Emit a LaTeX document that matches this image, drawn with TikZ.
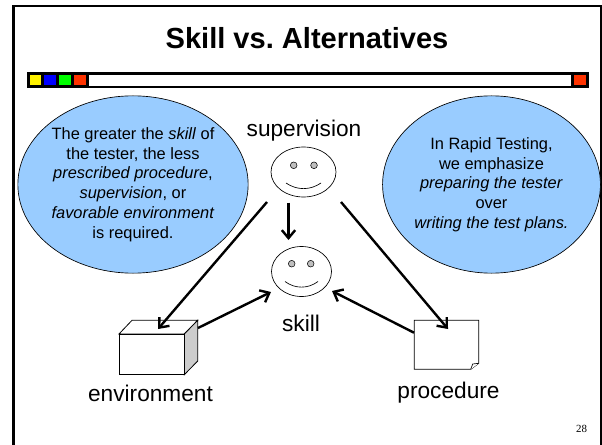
\documentclass[tikz,border=0pt]{standalone}
\usepackage{fontspec}
\setmainfont{Liberation Sans}
\newfontfamily\numfont{Liberation Serif}
\usetikzlibrary{arrows.meta,positioning,shapes.geometric}
\definecolor{bubble}{RGB}{153,204,255}
\definecolor{stripred}{RGB}{255,51,0}
\frenchspacing
\begin{document}
\begin{tikzpicture}[x=0.75pt,y=-0.75pt,
  bubbletxt/.style={ellipse, draw, fill=bubble, line width=0.5pt, inner sep=0pt,
                    align=center, minimum height=133pt, font=\fontsize{12.3}{14.8}\selectfont},
  lbl/.style={font=\fontsize{17}{20}\selectfont},
  face/.style={ellipse, draw, line width=0.5pt, minimum height=37.5pt, inner sep=0pt},
  eye/.style={circle, draw, fill=black!25, line width=0.4pt, minimum size=5pt, inner sep=0pt},
  swatch/.style={draw=black, line width=2.2pt, minimum width=11pt, minimum height=10pt, inner sep=0pt},
  arr/.style={-{Straight Barb[length=6pt,width=10pt]}, line width=1.8pt},
]
  \useasboundingbox (0,0) rectangle (602,445);
  % frame and title
  \draw[line width=2pt] (13.5,445) -- (13.5,6) -- (601,6) -- (601,445);
  \node[font=\fontsize{21.8}{26}\bfseries] (title) at (307,38) {Skill vs. Alternatives};
  % colour strip
  \draw[line width=2.2pt] (28,73.5) rectangle (587,87);
  \node[swatch, fill=yellow] (c1) at (35.5,80.25) {};
  \node[swatch, fill=blue] (c2) at (50.2,80.25) {};
  \node[swatch, fill=green] (c3) at (65,80.25) {};
  \node[swatch, fill=stripred] (c4) at (80,80.25) {};
  \node[swatch, fill=stripred] (c5) at (579.8,80.25) {};
  % bubbles
  \node[bubbletxt, minimum width=165pt] (left) at (133,184.5)
    {The greater the \textit{skill} of\\the tester, the less\\\textit{prescribed procedure},\\
     \textit{supervision}, or\\\textit{favorable environment}\\is required.};
  \node[bubbletxt, minimum width=157pt] (right) at (491.5,184.5)
    {In Rapid Testing,\\we emphasize\\\textit{preparing the tester}\\over\\\textit{writing the test plans.}};
  % faces
  \node[face, minimum width=48.75pt] (sup) at (303.5,172) {};
  \node[eye] (sup1) at (293.7,165.3) {};
  \node[eye] (sup2) at (314,165.3) {};
  \draw[line width=0.5pt] (286,183) .. controls (297,190.5) and (310,190.5) .. (321,183);
  \node[lbl] (suplbl) at (304,131) {supervision};
  \node[face, minimum width=45pt] (skl) at (301.5,271.5) {};
  \node[eye] (skl1) at (291.7,263.7) {};
  \node[eye] (skl2) at (310.7,263.7) {};
  \draw[line width=0.5pt] (285,281.5) .. controls (295,289) and (308,289) .. (318,281.5);
  \node[lbl] (skllbl) at (301,323) {skill};
  % box
  \coordinate (ba) at (119,334);
  \coordinate (bb) at (184.3,334);
  \coordinate (bc) at (184.3,374.7);
  \coordinate (be) at (132,320.3);
  \coordinate (bf) at (197.7,320.3);
  \coordinate (bg) at (197.7,361);
  \draw[line width=0.6pt, fill=white] (ba) -- (be) -- (bf) -- (bb) -- cycle;
  \draw[line width=0.6pt, fill=black!20] (bb) -- (bf) -- (bg) -- (bc) -- cycle;
  \draw[line width=0.7pt, fill=white] (ba) rectangle (bc);
  \node[lbl] (envlbl) at (150.5,393) {environment};
  % note
  \coordinate (na) at (414.3,320.3);
  \coordinate (nb) at (478.7,320.3);
  \coordinate (nc) at (478.7,363.3);
  \coordinate (nd) at (470.7,369.3);
  \coordinate (ne) at (414.3,369.3);
  \draw[line width=0.6pt, fill=white] (na) -- (nb) -- (nc) -- (nd) -- (ne) -- cycle;
  \draw[line width=0.5pt, fill=white] (nd) -- (472.7,364) -- (nc);
  \node[lbl] (prolbl) at (448.5,393) {procedure};
  % connectors
  \coordinate (a1) at (267,202);
  \coordinate (a2) at (158,329);
  \coordinate (a3) at (341,202);
  \coordinate (a4) at (448,329);
  \coordinate (a5) at (288.5,202.5);
  \coordinate (a6) at (288.5,240);
  \coordinate (a7) at (198,328);
  \coordinate (a8) at (271,292);
  \coordinate (a9) at (414,332.7);
  \coordinate (a10) at (332,291);
  \draw[arr] (a1) -- (a2);
  \draw[arr] (a3) -- (a4);
  \draw[arr] (a5) -- (a6);
  \draw[arr] (a7) -- (a8);
  \draw[arr] (a9) -- (a10);
  \node[font=\fontsize{8.2}{10}\selectfont\numfont] (pageno) at (581.7,429.3) {28};
\end{tikzpicture}
\end{document}
